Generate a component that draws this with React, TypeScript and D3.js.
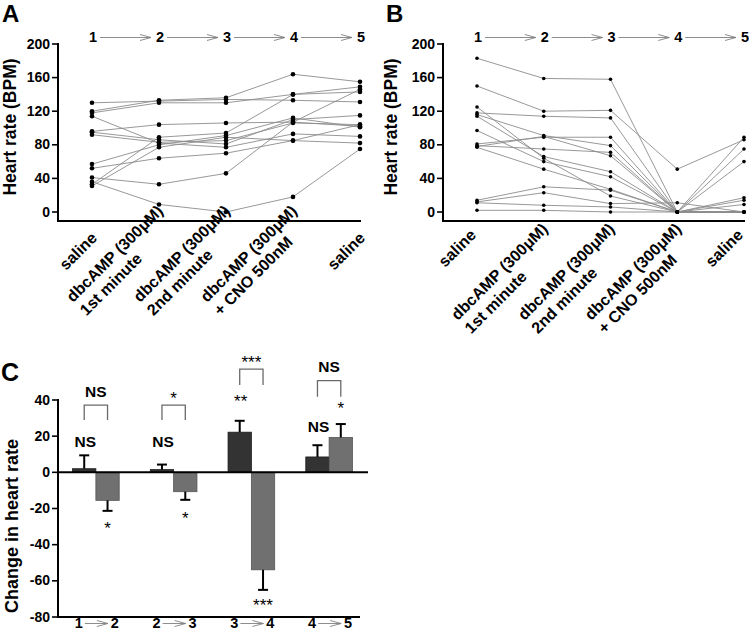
import React, { useRef, useState, useLayoutEffect } from "react";
import * as d3 from "d3";

// ---------- DATA ----------
const stepNumbers = ["1", "2", "3", "4", "5"];
const catLabels: string[][] = [
  ["saline"],
  ["dbcAMP (300\u03BCM)", "1st minute"],
  ["dbcAMP (300\u03BCM)", "2nd minute"],
  ["dbcAMP (300\u03BCM)", "+ CNO 500nM"],
  ["saline"],
];
const yTicksAB = [0, 40, 80, 120, 160, 200];

// Panel A: heart rate per animal at steps 1..5
const subjectsA: number[][] = [
  [130, 132, 134, 133, 131],
  [120, 133, 136, 164, 155],
  [118, 130, 130, 140, 143],
  [114, 82, 77, 93, 90],
  [96, 104, 106, 107, 102],
  [95, 86, 81, 110, 115],
  [92, 83, 85, 106, 104],
  [57, 80, 91, 112, 101],
  [52, 64, 70, 85, 82],
  [41, 33, 46, 107, 146],
  [36, 9, 0, 18, 75],
  [33, 89, 94, 140, 149],
  [31, 77, 89, 85, 104],
];

// Panel B
const subjectsB: number[][] = [
  [183, 159, 158, 0, 0],
  [150, 120, 121, 51, 86],
  [125, 64, 19, 0, 0],
  [118, 114, 112, 0, 14],
  [116, 91, 79, 0, 0],
  [114, 66, 48, 0, 9],
  [97, 60, 42, 0, 0],
  [81, 89, 89, 0, 89],
  [79, 75, 71, 0, 75],
  [78, 90, 67, 0, 0],
  [77, 51, 27, 0, 60],
  [14, 30, 26, 0, 17],
  [12, 23, 10, 11, 0],
  [11, 8, 6, 0, 0],
  [2, 2, 0, 0, 0],
];

// Panel C
const groupFrom = ["1", "2", "3", "4"];
const groupTo = ["2", "3", "4", "5"];
const darkMeans = [2, 1.5, 22.2, 8.5];
const darkErr = [7.4, 2.8, 6.3, 6.5];
const grayMeans = [-15.5, -10.7, -53.9, 19.3];
const grayErr = [5.8, 4.5, 11.1, 7.4];
const darkSig = ["NS", "NS", "**", "NS"];
const graySig = ["*", "*", "***", "*"];
const pairSig = ["NS", "*", "***", "NS"];
// annotation heights (in chart units)
const darkSigAt = [14, 14, 41, 22.5];
const graySigAt = [-29, -23.6, -71.7, 37.2];
const bracketTop = [37.2, 37.2, 57.1, 50.7];
const bracketLeg = [28.9, 28.9, 48.3, 41.8];
const pairSigAt = [41.8, 42.7, 62.6, 55.6];
const yTicksC = [-80, -60, -40, -20, 0, 20, 40];

const FONT = "'Liberation Sans', Arial, Helvetica, sans-serif";

function RotLabel({ x, y, lines }: { x: number; y: number; lines: string[] }) {
  const ref = useRef<SVGTextElement>(null);
  const [w, setW] = useState(0);
  useLayoutEffect(() => {
    if (ref.current) setW(ref.current.getComputedTextLength());
  }, []);
  return (
    <g transform={`translate(${x},${y}) rotate(-45)`} fontSize={16} fontWeight="bold">
      <text ref={ref} textAnchor="end">{lines[0]}</text>
      {lines[1] && (
        <text x={-w} y={19} textAnchor="start">{lines[1]}</text>
      )}
    </g>
  );
}

function Arrow({ x1, x2, y }: { x1: number; x2: number; y: number }) {
  return (
    <g stroke="#808080" strokeWidth={0.9} fill="none">
      <line x1={x1} x2={x2} y1={y} y2={y} />
      <polyline points={`${x2 - 11},${y - 3} ${x2},${y} ${x2 - 11},${y + 3}`} />
    </g>
  );
}

function LinePanel({
  data, xRange, axisX, yLabelX, labelDy, labelDx, salineDx, salineY, dotR, letter, letterX,
}: any) {
  const x = d3.scalePoint<number>().domain([0, 1, 2, 3, 4]).range(xRange);
  const y = d3.scaleLinear().domain([0, 200]).range([212, 44]);
  const line = d3.line<number>().x((_, i) => x(i)!).y((d) => y(d));
  const axisY = 221;
  return (
    <g>
      <text x={letterX} y={22} fontSize={24} fontWeight="bold">{letter}</text>
      {/* step numbers */}
      {stepNumbers.map((s, i) => (
        <text key={s} x={x(i)! + 1} y={42} fontSize={14.5} fontWeight="bold" textAnchor="middle">{s}</text>
      ))}
      {stepNumbers.slice(0, 4).map((s, i) => (
        <Arrow key={"a" + s} x1={x(i)! + 8} x2={x(i + 1)! - 8} y={37.5} />
      ))}
      {/* axes */}
      <line x1={axisX} x2={axisX} y1={y(200) - 1} y2={axisY + 1} stroke="#000" strokeWidth={2} />
      <line x1={axisX - 1} x2={xRange[1] + 1} y1={axisY} y2={axisY} stroke="#000" strokeWidth={2} />
      {yTicksAB.map((t) => (
        <g key={t}>
          <line x1={axisX - 6} x2={axisX} y1={y(t)} y2={y(t)} stroke="#000" strokeWidth={1.6} />
          <text x={axisX - 8} y={y(t) + 4.5} fontSize={14} fontWeight="bold" textAnchor="end">{t}</text>
        </g>
      ))}
      <text transform={`translate(${yLabelX},127) rotate(-90)`} fontSize={17.5} fontWeight="bold" textAnchor="middle">
        Heart rate (BPM)
      </text>
      {/* lines */}
      {data.map((s: number[], k: number) => (
        <path key={k} d={line(s)!} fill="none" stroke="#8c8c8c" strokeWidth={0.9} />
      ))}
      {data.map((s: number[], k: number) =>
        s.map((v, i) => <circle key={k + "-" + i} cx={x(i)} cy={y(v)} r={dotR} fill="#000" />)
      )}
      {/* category labels */}
      {catLabels.map((lines, i) =>
        lines.length === 1 ? (
          <RotLabel key={i} x={x(i)! + salineDx} y={salineY} lines={lines} />
        ) : (
          <RotLabel key={i} x={x(i)! + labelDx} y={labelDy} lines={lines} />
        )
      )}
    </g>
  );
}

function BarPanel() {
  const axisX = 58;
  const y = d3.scaleLinear().domain([-80, 40]).range([617, 400]);
  const xb = d3.scaleBand<number>().domain([0, 1, 2, 3]).range([57, 368]).paddingInner(0.4).paddingOuter(0.2);
  const bw = xb.bandwidth() / 2;
  const darkX = (i: number) => xb(i)!;
  const grayX = (i: number) => xb(i)! + bw;
  const starOff = 9;
  return (
    <g>
      <text x={1} y={381} fontSize={25} fontWeight="bold">C</text>
      <text transform={`translate(18,526) rotate(-90)`} fontSize={18} fontWeight="bold" textAnchor="middle">
        Change in heart rate
      </text>
      {/* bars */}
      {darkMeans.map((m, i) => (
        <rect key={"d" + i} x={darkX(i)} width={bw} y={Math.min(y(m), y(0))} height={Math.abs(y(m) - y(0))}
          fill="#333333" stroke="#1a1a1a" strokeWidth={0.8} />
      ))}
      {grayMeans.map((m, i) => (
        <rect key={"g" + i} x={grayX(i)} width={bw} y={Math.min(y(m), y(0))} height={Math.abs(y(m) - y(0))}
          fill="#707070" stroke="#555" strokeWidth={0.8} />
      ))}
      {/* error bars */}
      {darkMeans.map((m, i) => {
        const cx = darkX(i) + bw / 2;
        const e = m >= 0 ? m + darkErr[i] : m - darkErr[i];
        return (
          <g key={"de" + i} stroke="#000" strokeWidth={2}>
            <line x1={cx} x2={cx} y1={y(m)} y2={y(e)} />
            <line x1={cx - 5} x2={cx + 5} y1={y(e)} y2={y(e)} />
          </g>
        );
      })}
      {grayMeans.map((m, i) => {
        const cx = grayX(i) + bw / 2;
        const e = m >= 0 ? m + grayErr[i] : m - grayErr[i];
        return (
          <g key={"ge" + i} stroke="#000" strokeWidth={2}>
            <line x1={cx} x2={cx} y1={y(m)} y2={y(e)} />
            <line x1={cx - 5} x2={cx + 5} y1={y(e)} y2={y(e)} />
          </g>
        );
      })}
      {/* axes */}
      <line x1={axisX} x2={axisX} y1={y(40) - 1} y2={y(-80) + 1} stroke="#000" strokeWidth={2} />
      <line x1={axisX} x2={368} y1={y(0)} y2={y(0)} stroke="#000" strokeWidth={2} />
      <line x1={axisX - 1} x2={360} y1={y(-80)} y2={y(-80)} stroke="#000" strokeWidth={2} />
      {yTicksC.map((t) => (
        <g key={t}>
          <line x1={axisX - 6} x2={axisX} y1={y(t)} y2={y(t)} stroke="#000" strokeWidth={1.6} />
          <text x={axisX - 8} y={y(t) + 4.5} fontSize={14} fontWeight="bold" textAnchor="end">{t}</text>
        </g>
      ))}
      {/* annotations */}
      {darkSig.map((s, i) => {
        const cx = darkX(i) + bw / 2 + 1;
        return s === "NS" ? (
          <text key={"ds" + i} x={cx} y={y(darkSigAt[i])} fontSize={15.5} fontWeight="bold" textAnchor="middle">{s}</text>
        ) : (
          <text key={"ds" + i} x={cx} y={y(darkSigAt[i]) + starOff} fontSize={17} textAnchor="middle">{s}</text>
        );
      })}
      {graySig.map((s, i) => (
        <text key={"gs" + i} x={grayX(i) + bw / 2} y={y(graySigAt[i]) + starOff} fontSize={17} textAnchor="middle">{s}</text>
      ))}
      {pairSig.map((s, i) => {
        const x1 = darkX(i) + bw / 2;
        const x2 = grayX(i) + bw / 2;
        const cx = (x1 + x2) / 2;
        return (
          <g key={"p" + i}>
            <polyline points={`${x1},${y(bracketLeg[i])} ${x1},${y(bracketTop[i])} ${x2},${y(bracketTop[i])} ${x2},${y(bracketLeg[i])}`}
              fill="none" stroke="#6a6a6a" strokeWidth={1.3} />
            {s === "NS" ? (
              <text x={cx} y={y(pairSigAt[i])} fontSize={15.5} fontWeight="bold" textAnchor="middle">{s}</text>
            ) : (
              <text x={cx} y={y(pairSigAt[i]) + starOff} fontSize={17} textAnchor="middle">{s}</text>
            )}
          </g>
        );
      })}
      {/* x labels */}
      {groupFrom.map((f, i) => {
        const c = xb(i)! + bw;
        return (
          <g key={"xl" + i}>
            <text x={c - 17} y={628} fontSize={14.5} fontWeight="bold" textAnchor="middle">{f}</text>
            <text x={c + 19} y={628} fontSize={14.5} fontWeight="bold" textAnchor="middle">{groupTo[i]}</text>
            <Arrow x1={c - 11} x2={c + 12} y={623.5} />
          </g>
        );
      })}
    </g>
  );
}

export default function App() {
  return (
    <svg width={749} height={636} style={{ position: "absolute", left: 0, top: 0, background: "#fff" }}
      fontFamily={FONT}>
      <rect width={749} height={636} fill="#fff" />
      <LinePanel data={subjectsA} xRange={[92, 360]} axisX={58} yLabelX={16} labelDy={212} labelDx={5}
        salineDx={6} salineY={239} dotR={2.3} letter="A" letterX={2} />
      <LinePanel data={subjectsB} xRange={[477, 744]} axisX={443} yLabelX={397} labelDy={230} labelDx={5}
        salineDx={0} salineY={236} dotR={1.8} letter="B" letterX={386} />
      <BarPanel />
    </svg>
  );
}
